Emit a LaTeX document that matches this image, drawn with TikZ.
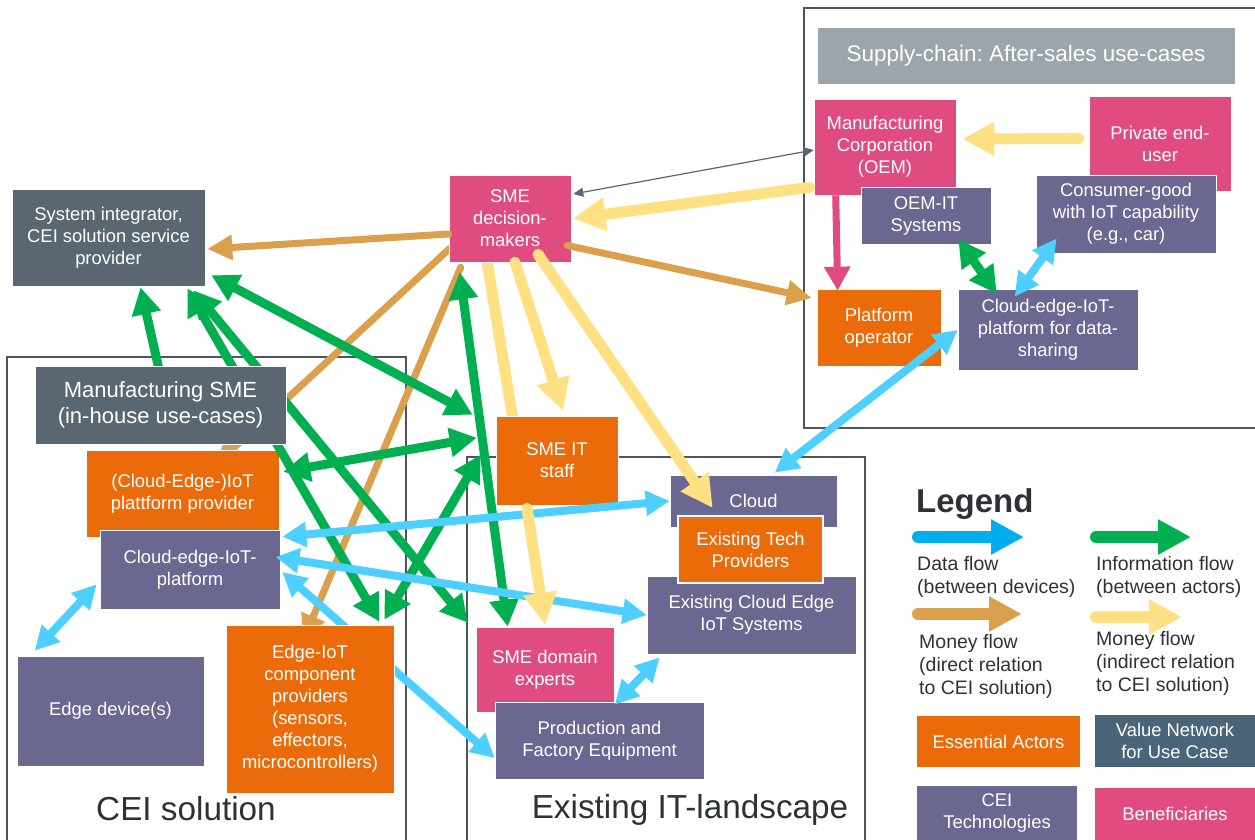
\documentclass[tikz,border=0pt]{standalone}
\usepackage{fontspec}
\setmainfont{Liberation Sans}
\usetikzlibrary{arrows.meta,calc}
\definecolor{cpink}{HTML}{E04C7F}
\definecolor{cpurple}{HTML}{6A6790}
\definecolor{corange}{HTML}{EB6A0A}
\definecolor{cdark}{HTML}{5A6670}
\definecolor{cslate}{HTML}{4A6479}
\definecolor{ctitle}{HTML}{9CA4AC}
\definecolor{cgreen}{HTML}{00B050}
\definecolor{cblue}{HTML}{4DCFFF}
\definecolor{clblue}{HTML}{00AEEF}
\definecolor{cbrown}{HTML}{DBA04B}
\definecolor{cyellow}{HTML}{FFE083}
\definecolor{cframe}{HTML}{4D555D}
\definecolor{ctext}{HTML}{2E3236}
\pgfdeclarelayer{bg}
\pgfdeclarelayer{mid}
\pgfsetlayers{bg,mid,main}
\begin{document}
\frenchspacing
\begin{tikzpicture}[x=1pt,y=-1pt,
  box/.style={rectangle, inner sep=0pt, text=white, align=center, font=\fontsize{18.4}{22}\selectfont, draw=white, line width=0.6pt},
  pinkbox/.style={box, fill=cpink},
  purplebox/.style={box, fill=cpurple},
  orangebox/.style={box, fill=corange},
  darkbox/.style={box, fill=cdark},
  frame/.style={draw=cframe, line width=1.5pt},
  infoarr/.style={draw=cgreen, line width=9pt, {Triangle[width=28pt,length=27pt]}-{Triangle[width=28pt,length=27pt]}},
  infoone/.style={draw=cgreen, line width=9pt, -{Triangle[width=28pt,length=27pt]}},
  dataarr/.style={draw=cblue, line width=8pt, {Triangle[width=24pt,length=24pt]}-{Triangle[width=24pt,length=24pt]}},
  moneyarr/.style={draw=cbrown, line width=7pt, line cap=round, -{Triangle[width=24pt,length=25pt]}},
  indarr/.style={draw=cyellow, line width=11pt, line cap=round, -{Triangle[width=32pt,length=32pt]}},
  indline/.style={draw=cyellow, line width=11pt, line cap=round},
  legtext/.style={anchor=west, inner sep=0pt, align=left, text=ctext, font=\fontsize{19.5}{23}\selectfont},
  legarr/.style={line width=12pt, line cap=round, -{Triangle[width=33pt,length=33pt]}},
  biglabel/.style={inner sep=0pt, anchor=base, text=ctext, font=\fontsize{33.3}{38}\selectfont}
]
\begin{pgfonlayer}{bg}
\fill[white] (0,0) rectangle (1255,840);
\end{pgfonlayer}
\useasboundingbox (0,0) rectangle (1255,840);

% ---------- nodes ----------
\node[box, fill=ctitle, minimum width=418pt, minimum height=57pt, font=\fontsize{22.5}{26}\selectfont] (title) at (1026,55.5) {Supply-chain: After-sales use-cases};
\node[pinkbox, minimum width=142pt, minimum height=96pt] (mancorp) at (885,147) {Manufacturing\\Corporation\\(OEM)};
\node[pinkbox, minimum width=142pt, minimum height=95pt] (enduser) at (1160,143.5) {Private end-\\user};
\node[purplebox, minimum width=130pt, minimum height=57pt] (oemit) at (926,215.5) {OEM-IT\\Systems};
\node[purplebox, minimum width=180pt, minimum height=78pt] (consumer) at (1126,214) {Consumer-good\\with IoT capability\\(e.g., car)};
\node[orangebox, minimum width=124pt, minimum height=77pt] (platop) at (879,327.5) {Platform\\operator};
\node[purplebox, minimum width=180pt, minimum height=81pt] (dataplat) at (1048,329.5) {Cloud-edge-IoT-\\platform for data-\\sharing};
\node[pinkbox, minimum width=122pt, minimum height=87pt] (smedm) at (510,218.5) {SME\\decision-\\makers};
\node[darkbox, minimum width=193pt, minimum height=97pt] (sysint) at (108.5,237.5) {System integrator,\\CEI solution service\\provider};
\begin{pgfonlayer}{mid}
\node[orangebox, minimum width=193pt, minimum height=87pt] (iotprov) at (182.5,493.5) {(Cloud-Edge-)IoT\\plattform provider};
\end{pgfonlayer}
\node[darkbox, minimum width=251pt, minimum height=78pt, font=\fontsize{22}{26}\selectfont] (mansme) at (160.5,405) {Manufacturing SME\\(in-house use-cases)};
\node[purplebox, minimum width=180pt, minimum height=79pt] (ceiplat) at (190,569.5) {Cloud-edge-IoT-\\platform};
\node[purplebox, minimum width=187pt, minimum height=110pt] (edgedev) at (110.5,711) {Edge device(s)};
\node[orangebox, minimum width=168pt, minimum height=168pt] (edgecomp) at (310,709) {Edge-IoT\\component\\providers\\(sensors,\\effectors,\\microcontrollers)};
\node[orangebox, minimum width=122pt, minimum height=89pt] (smeit) at (557,460.5) {SME IT\\staff};
\node[purplebox, minimum width=167pt, minimum height=52pt] (cloud) at (753.5,501) {Cloud};
\node[purplebox, minimum width=209pt, minimum height=78pt] (existce) at (751.5,615) {Existing Cloud Edge\\IoT Systems};
\node[orangebox, minimum width=145pt, minimum height=67pt, line width=2pt] (techprov) at (750.5,549.5) {Existing Tech\\Providers};
\node[pinkbox, minimum width=138pt, minimum height=85pt] (smedom) at (545,669.5) {SME domain\\experts};
\node[purplebox, minimum width=209pt, minimum height=77pt] (prodeq) at (599.5,740.5) {Production and\\Factory Equipment};

% big labels
\node[biglabel] (ceilabel) at (186,820) {CEI solution};
\node[biglabel] (itlabel) at (690,818) {Existing IT-landscape};

% ---------- background: frames and hidden connectors ----------
\begin{pgfonlayer}{bg}
\draw[frame] (7,850) -- (7,357) -- (406,357) -- (406,850);
\draw[frame] (467,850) -- (467,457) -- (865,457) -- (865,850);
\draw[frame] (1270,8) -- (804,8) -- (804,428) -- (1270,428);
\draw[moneyarr] ($(smedm.west)+(1,30)$) -- ($(iotprov.north)+(33,15)$);
\draw[moneyarr] ($(smedm.south west)+(12,5)$) -- ($(edgecomp.north)+(-6.6,15)$);
\draw[infoone] ($(mansme.center)+(6.5,0)$) -- ($(sysint.south)+(32,1)$);
\draw[infoarr] ($(sysint.south east)+(-12,4)$) -- ($(smedom.north west)+(-8,-4)$);
\draw[indline] ($(smedm.south)+(-23,-1)$) -- ($(smeit.north)+(-44,4)$);
\draw[dataarr] ($(ceiplat.east)+(2,2.5)$) -- ($(prodeq.west)+(0,17.5)$);
\end{pgfonlayer}
\begin{pgfonlayer}{mid}
\draw[infoarr] ($(sysint.south east)+(-18,2)$) -- ($(edgecomp.north east)+(-15,-3)$);
\end{pgfonlayer}

% ---------- visible connectors ----------
\draw[moneyarr] ($(smedm.west)+(0,15.5)$) -- ($(sysint.east)+(2,11.5)$);
\draw[moneyarr] ($(smedm.east)+(-4,27)$) -- ($(platop.west)+(-5,-29.5)$);
\draw[draw=cdark, line width=1.2pt, {Triangle[width=9pt,length=10pt]}-{Triangle[width=9pt,length=10pt]}] ($(mancorp.west)+(0,3)$) -- ($(smedm.east)+(2,-24.5)$);
\draw[draw=cpink, line width=7pt, -{Triangle[width=25pt,length=24pt]}] ($(mancorp.south west)+(22,0)$) -- ($(platop.north west)+(21,2)$);
\draw[infoarr] ($(sysint.south east)+(6,-11)$) -- ($(smeit.north west)+(-23,-1)$);
\draw[infoarr] ($(smeit.north west)+(-19,22)$) -- ($(iotprov.north east)+(4,22)$);
\draw[infoarr] ($(smeit.north west)+(-15,39)$) -- ($(edgecomp.north east)+(-10,-5)$);
\draw[infoarr] ($(smedm.south west)+(11,10)$) -- ($(smedom.north west)+(32,0)$);
\draw[infoarr] ($(oemit.south east)+(-33,-5)$) -- ($(dataplat.north west)+(39,5)$);
\draw[dataarr] ($(dataplat.west)+(0,0.5)$) -- ($(cloud.north west)+(105,-2)$);
\draw[dataarr] ($(consumer.south west)+(21,-15)$) -- ($(dataplat.north west)+(57,8)$);
\draw[dataarr] (cloud.west) -- ($(ceiplat.north east)+(2,7)$);
\draw[dataarr] (existce.west) -- ($(ceiplat.east)+(-5,-12.5)$);
\draw[dataarr] ($(existce.south west)+(13,3)$) -- ($(prodeq.north west)+(120,3)$);
\draw[dataarr] ($(ceiplat.south west)+(-3,-25)$) -- ($(edgedev.north west)+(18,-5)$);
\draw[indarr] ($(mancorp.south west)+(-4,-8)$) -- ($(smedm.east)+(2,0)$);
\draw[indarr] ($(enduser.west)+(-10,-5)$) -- ($(mancorp.east)+(6,-8)$);
\draw[indarr] ($(smedm.south)+(5,0)$) -- ($(smeit.north)+(6,-5)$);
\draw[indarr] ($(smedm.south)+(28,-8)$) -- ($(cloud.west)+(43,7)$);
\draw[indarr] ($(smeit.south)+(-30,3)$) -- ($(smedom.north)+(0,-2)$);

% ---------- legend ----------
\node[inner sep=0pt, anchor=base west, text=ctext, font=\bfseries\fontsize{33}{38}\selectfont] (legend) at (916,512) {Legend};
\coordinate (la1) at (918,537); \coordinate (la2) at (1024,537);
\coordinate (lb1) at (1096,537); \coordinate (lb2) at (1191,537);
\coordinate (lc1) at (918,614); \coordinate (lc2) at (1022,614);
\coordinate (ld1) at (1096,617); \coordinate (ld2) at (1182,617);
\draw[legarr, draw=clblue] (la1) -- (la2);
\draw[legarr, draw=cgreen] (lb1) -- (lb2);
\draw[legarr, draw=cbrown] (lc1) -- (lc2);
\draw[legarr, draw=cyellow] (ld1) -- (ld2);
\node[legtext] (lt1) at (917,577) {Data flow\\(between devices)};
\node[legtext] (lt2) at (1096,577) {Information flow\\(between actors)};
\node[legtext] (lt3) at (919,666) {Money flow\\(direct relation\\to CEI solution)};
\node[legtext] (lt4) at (1096,663) {Money flow\\(indirect relation\\to CEI solution)};
\node[orangebox, draw=none, minimum width=163pt, minimum height=51pt] (lessential) at (998.5,741.5) {Essential Actors};
\node[box, fill=cslate, draw=none, minimum width=160pt, minimum height=52pt] (lvalue) at (1175,741) {Value Network\\for Use Case};
\node[purplebox, draw=none, minimum width=160pt, minimum height=54pt] (lcei) at (997,813) {CEI\\Technologies};
\node[pinkbox, draw=none, minimum width=160pt, minimum height=52pt] (lbenef) at (1175,814) {Beneficiaries};
\end{tikzpicture}
\end{document}
